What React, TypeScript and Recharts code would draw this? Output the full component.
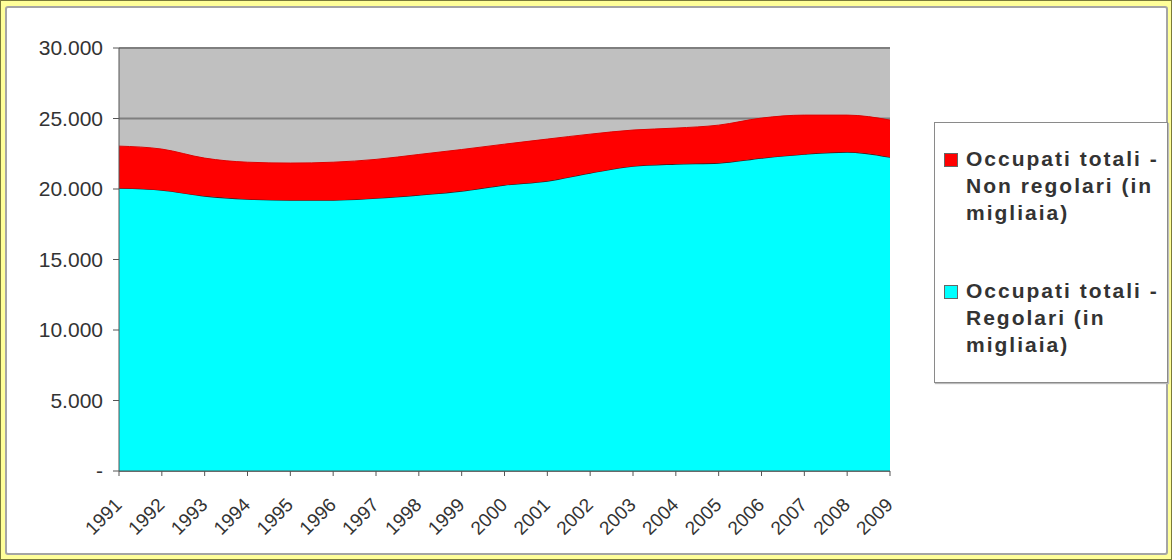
import React from "react";
import { AreaChart, Area, XAxis, YAxis, CartesianGrid } from "recharts";

// Occupati totali (in migliaia), 1991-2009
const years = [
  "1991", "1992", "1993", "1994", "1995", "1996", "1997", "1998", "1999", "2000",
  "2001", "2002", "2003", "2004", "2005", "2006", "2007", "2008", "2009",
];
const regolari = [
  20060, 19920, 19500, 19280, 19210, 19210, 19350, 19570, 19850, 20280,
  20560, 21130, 21620, 21770, 21840, 22190, 22470, 22620, 22260,
];
const nonRegolari = [
  2980, 2910, 2690, 2620, 2630, 2690, 2750, 2880, 2950, 2900,
  2980, 2760, 2560, 2550, 2690, 2840, 2770, 2620, 2630,
];
const yTicks = [0, 5000, 10000, 15000, 20000, 25000, 30000];

const legendItems = [
  { color: "#ff0000", lines: ["Occupati totali -", "Non regolari (in", "migliaia)"] },
  { color: "#00ffff", lines: ["Occupati totali -", "Regolari (in", "migliaia)"] },
];

const data = years.map((year, i) => ({
  year,
  regolari: regolari[i],
  nonRegolari: nonRegolari[i],
}));

const FONT = "'Liberation Sans', Arial, sans-serif";
// chart svg origin on the page (panel left/top + border - 1)
const CX = 5;
const CY = 6;

const formatThousands = (v: number) =>
  v === 0 ? "-" : String(v).replace(/\B(?=(\d{3})+(?!\d))/g, ".");

function YearTick(props: any) {
  const { x, payload } = props;
  const bx = x + 4;
  const by = 505 - CY;
  return (
    <text
      x={bx}
      y={by}
      transform={`rotate(-45, ${bx}, ${by})`}
      textAnchor="end"
      fill="#333"
      fontSize={19}
      fontFamily={FONT}
    >
      {payload.value}
    </text>
  );
}

function LegendBox() {
  return (
    <div
      style={{
        position: "absolute",
        left: 933,
        top: 121,
        width: 232,
        height: 259,
        background: "#fff",
        border: "1px solid #8a8a8a",
        boxShadow: "1px 1px 1px #bbb",
        fontFamily: FONT,
        fontWeight: "bold",
        fontSize: 21,
        letterSpacing: 2,
        color: "#333",
      }}
    >
      {legendItems.map((item, k) => (
        <div key={k} style={{ position: "absolute", left: 9, top: 25 + k * 132 }}>
          <div
            style={{
              position: "absolute",
              left: 0,
              top: 5,
              width: 12,
              height: 12,
              background: item.color,
              border: "1px solid #666",
            }}
          />
          {item.lines.map((line, j) => (
            <div
              key={j}
              style={{ position: "absolute", left: 22, top: j * 27, whiteSpace: "nowrap", lineHeight: "22px" }}
            >
              {line}
            </div>
          ))}
        </div>
      ))}
    </div>
  );
}

export default function App() {
  return (
    <div
      style={{
        position: "relative",
        width: 1172,
        height: 560,
        background: "#ffff99",
        boxSizing: "border-box",
        border: "1px solid #7a7a3a",
        overflow: "hidden",
      }}
    >
      <style>{"body{margin:0;background:#ffff99}"}</style>
      <div
        style={{
          position: "absolute",
          left: 4,
          top: 5,
          width: 1163,
          height: 549,
          boxSizing: "border-box",
          background: "#fff",
          border: "2px solid #a5a5a5",
          borderRadius: 3,
          overflow: "hidden",
        }}
      >
        <div style={{ position: "absolute", left: -1, top: -1 }}>
          <AreaChart
            width={1159}
            height={545}
            data={data}
            margin={{ top: 47 - CY, right: 1159 - (889 - CX), bottom: 545 - (470 - CY) - 70, left: 58 - CX }}
          >
            <CartesianGrid
              vertical={false}
              fill="#c0c0c0"
              stroke="#7f7f7f"
              strokeWidth={2}
            />
            <XAxis
              dataKey="year"
              height={70}
              interval={0}
              tick={<YearTick />}
              tickSize={5}
              axisLine={{ stroke: "#555" }}
              tickLine={{ stroke: "#555" }}
            />
            <YAxis
              width={60}
              domain={[0, 30000]}
              ticks={yTicks}
              tickFormatter={formatThousands}
              tickSize={6}
              tickMargin={10}
              axisLine={{ stroke: "#555" }}
              tickLine={{ stroke: "#555" }}
              tick={{ fill: "#333", fontSize: 21, fontFamily: FONT }}
            />
            <Area
              type="monotone"
              dataKey="regolari"
              stackId="occ"
              fill="#00ffff"
              fillOpacity={1}
              stroke="#3a2020"
              strokeWidth={1.2}
              isAnimationActive={false}
            />
            <Area
              type="monotone"
              dataKey="nonRegolari"
              stackId="occ"
              fill="#ff0000"
              fillOpacity={1}
              stroke="#e00000"
              strokeWidth={1}
              isAnimationActive={false}
            />
          </AreaChart>
        </div>
      </div>
      <LegendBox />
    </div>
  );
}
